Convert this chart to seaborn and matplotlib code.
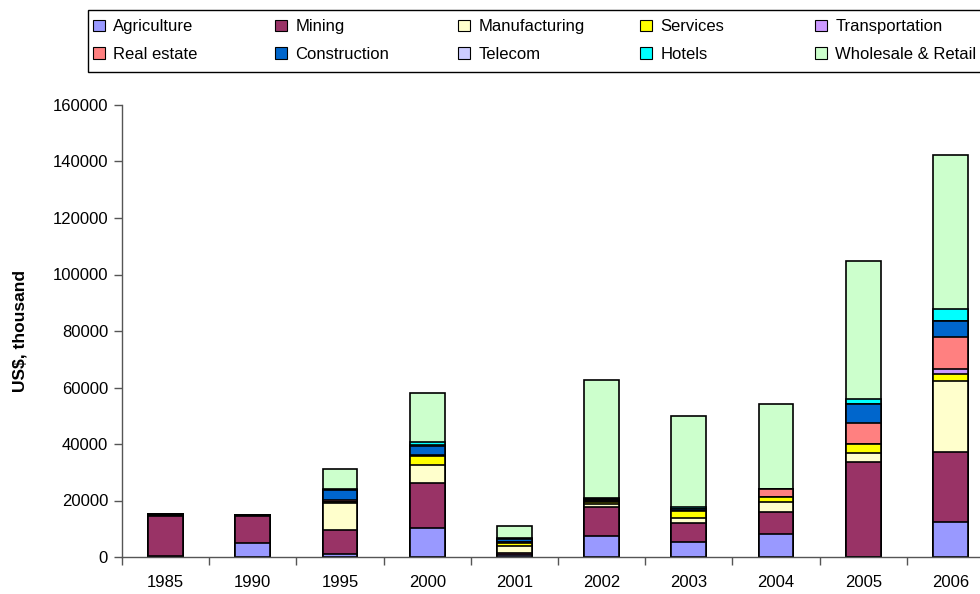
import matplotlib
matplotlib.use("Agg")
import matplotlib.pyplot as plt
import numpy as np
import pandas as pd
import seaborn as sns
from matplotlib.patches import Patch, Rectangle
from matplotlib.ticker import FixedLocator

# data (US$ thousand)
years = ["1985", "1990", "1995", "2000", "2001", "2002", "2003", "2004", "2005", "2006"]
agriculture = [400, 4850, 1000, 10150, 800, 7430, 5300, 8030, 0, 12280]
mining = [14200, 9650, 8550, 15950, 700, 10370, 6900, 7900, 33500, 25000]
manufacturing = [0, 0, 9550, 6350, 2400, 800, 1500, 3650, 3300, 24900]
services = [300, 300, 300, 3200, 1150, 900, 2700, 1650, 3100, 2600]
transportation = [0, 0, 200, 200, 200, 400, 0, 0, 0, 1800]
real_estate = [0, 0, 600, 300, 200, 300, 0, 2700, 7400, 11400]
construction = [200, 200, 3500, 3150, 1050, 400, 600, 0, 6800, 5450]
telecom = [0, 0, 0, 300, 0, 0, 0, 0, 0, 0]
hotels = [0, 0, 400, 1000, 200, 200, 700, 0, 1800, 4250]
wholesale = [0, 0, 6900, 17350, 4150, 41950, 32300, 30300, 48900, 54700]

sectors = ["Agriculture", "Mining", "Manufacturing", "Services", "Transportation",
           "Real estate", "Construction", "Telecom", "Hotels", "Wholesale & Retail"]
series = [agriculture, mining, manufacturing, services, transportation,
          real_estate, construction, telecom, hotels, wholesale]
colors = ["#9999FF", "#993366", "#FFFFCC", "#FFFF00", "#CC99FF",
          "#FF8080", "#0066CC", "#CCCCFF", "#00FFFF", "#CCFFCC"]

sns.set_theme(style="white")
plt.rcParams["font.family"] = ["Liberation Sans", "DejaVu Sans"]
plt.rcParams["text.color"] = "black"
plt.rcParams["axes.labelcolor"] = "black"
plt.rcParams["xtick.color"] = "black"
plt.rcParams["ytick.color"] = "black"

W, H = 980, 594
fig = plt.figure(figsize=(W / 100, H / 100), dpi=100)
ax = fig.add_axes([122 / W, 1 - 557 / H, 872 / W, (557 - 105) / H])

# stacked bars: draw cumulative totals from the top series down
df = pd.DataFrame(dict(zip(sectors, series)), index=years)
cum = df.cumsum(axis=1)
for name, col in reversed(list(zip(sectors, colors))):
    sns.barplot(x=years, y=cum[name].values, color=col, width=0.4,
                edgecolor="black", linewidth=1.2, saturation=1, ax=ax)

ax.set_ylim(0, 160000)
ax.set_xlim(-0.5, 9.5)
ax.set_yticks(np.arange(0, 160001, 20000))
ax.set_yticklabels([str(v) for v in range(0, 160001, 20000)], fontsize=12)
ax.xaxis.set_major_locator(FixedLocator(np.arange(-0.5, 10, 1)))
ax.xaxis.set_minor_locator(FixedLocator(np.arange(0, 10, 1)))
ax.set_xticklabels([], minor=False)
ax.set_xticklabels(years, minor=True, fontsize=12)
ax.tick_params(axis="x", which="major", length=6, width=1, color="#555555", direction="out", bottom=True)
ax.tick_params(axis="x", which="minor", length=0, pad=13)
ax.tick_params(axis="y", length=6, width=1, color="#555555", direction="out", left=True, pad=4)
for s in ["top", "right"]:
    ax.spines[s].set_visible(False)
for s in ["left", "bottom"]:
    ax.spines[s].set_color("#555555")
    ax.spines[s].set_linewidth(1)
ax.set_xlabel("")
ax.set_ylabel("US$, thousand", fontsize=12.5, fontweight="bold", labelpad=18)

# legend: 5 columns x 2 rows, row-major, in one box
fig.patches.append(Rectangle((88 / W, 1 - 72 / H), 1.0, 62 / H, transform=fig.transFigure,
                             facecolor="white", edgecolor="black", linewidth=1))
col_x = [90, 272, 455, 637, 812]
for i, x in enumerate(col_x):
    idx = [i, i + 5]
    hs = [Patch(facecolor=colors[j], edgecolor="black", linewidth=0.8) for j in idx]
    fig.legend(hs, [sectors[j] for j in idx], loc="upper left",
               bbox_to_anchor=(x / W, 1 - 16 / H), fontsize=12, frameon=False,
               handlelength=0.7, handleheight=0.7, handletextpad=0.5,
               labelspacing=0.74, borderpad=0.2, borderaxespad=0)

fig.savefig("out.png", dpi=100)
